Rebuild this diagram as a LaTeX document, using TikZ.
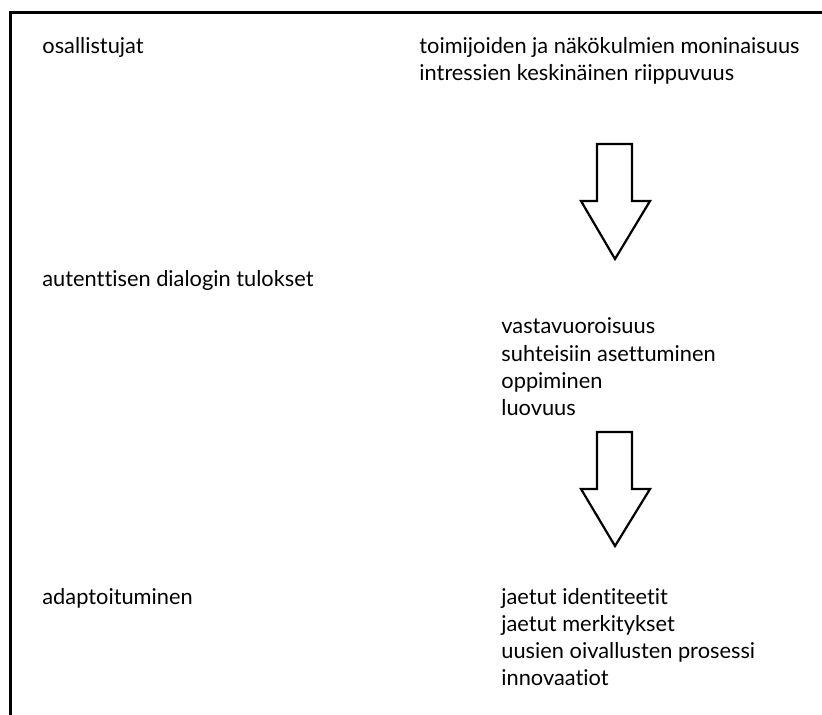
\documentclass[tikz,border=0pt]{standalone}
\usepackage{fontspec}
\setmainfont{Lato}[Ligatures = NoCommon]
\usetikzlibrary{positioning}
\tikzset{lbl/.style = {anchor = base west, inner sep = 0, font = \fontsize{10.9}{13.5}\selectfont}}
\tikzset{blockarrow/.style = {draw, line width = 1.1pt, fill = white}}

\begin{document}
\begin{tikzpicture}[x = 0.5pt, y = -0.5pt]
      \useasboundingbox (0, 0) rectangle (822, 715);

      \draw [line width = 1.5pt] (10, 715) -- (10, 12.5) -- (822, 12.5);

      \node [lbl] (osall) at (42, 54) {osallistujat};
      \node [lbl] (dial) at (42, 287) {autenttisen dialogin tulokset};
      \node [lbl] (adapt) at (42, 604) {adaptoituminen};

      \node [lbl] (moni) at (419, 54) {toimijoiden ja näkökulmien moninaisuus};
      \node [lbl] (riip) at (419, 81) {intressien keskinäinen riippuvuus};

      \node [lbl] (vast) at (501, 334) {vastavuoroisuus};
      \node [lbl] (suht) at (501, 361) {suhteisiin asettuminen};
      \node [lbl] (oppi) at (501, 388) {oppiminen};
      \node [lbl] (luov) at (501, 415) {luovuus};

      \node [lbl] (iden) at (501, 604) {jaetut identiteetit};
      \node [lbl] (merk) at (501, 631) {jaetut merkitykset};
      \node [lbl] (oiva) at (501, 658) {uusien oivallusten prosessi};
      \node [lbl] (inno) at (501, 685) {innovaatiot};

      \draw [blockarrow] (597, 144) -- (632, 144) -- (632, 201) -- (650, 201) -- (615, 259) -- (581, 201) -- (597, 201) -- cycle;
      \draw [blockarrow] (597, 432) -- (632, 432) -- (632, 489) -- (650, 489) -- (615, 546) -- (581, 489) -- (597, 489) -- cycle;
    \end{tikzpicture}
\end{document}
